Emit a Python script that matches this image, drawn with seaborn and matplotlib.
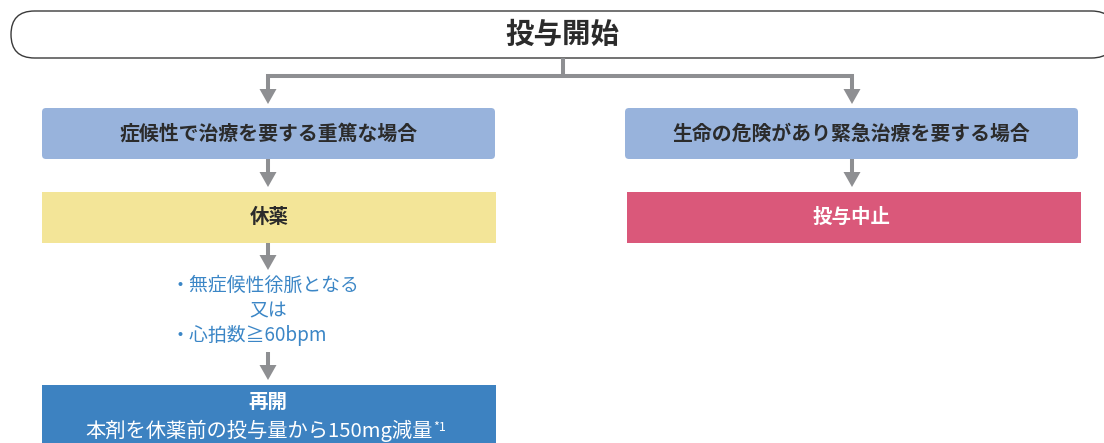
import matplotlib
matplotlib.use("Agg")
import matplotlib.pyplot as plt
from matplotlib.patches import FancyBboxPatch, Rectangle, Polygon
import seaborn as sns

# ---- content ----
start_label = "投与開始"
branch_labels = ["症候性で治療を要する重篤な場合", "生命の危険があり緊急治療を要する場合"]
action_labels = ["休薬", "投与中止"]
condition_lines = ["・無症候性徐脈となる", "又は", "・心拍数≧60bpm"]
resume_title = "再開"
resume_text = "本剤を休薬前の投与量から150mg減量"
resume_note = "*1"

sns.set_theme(style="white")
plt.rcParams['font.family'] = ['Noto Sans CJK JP', 'DejaVu Sans']

GRAY = "#8e8f92"
BLUE_BOX = "#98b3dc"
YELLOW = "#f3e598"
PINK = "#da587a"
DARK_BLUE = "#3d82c1"
TXT = "#2b2b2b"
BLUE_TXT = "#3b86c6"

W, H = 1104, 443
fig = plt.figure(figsize=(W / 100, H / 100), dpi=100)
ax = fig.add_axes([0, 0, 1, 1])
ax.set_xlim(0, W)
ax.set_ylim(H, 0)
ax.axis("off")

# top pill
ax.add_patch(FancyBboxPatch((11, 11), 1104, 47, boxstyle="round,pad=0,rounding_size=23.5",
                            facecolor="white", edgecolor="#3a3a3a", lw=1.0))
ax.text(562, 35, start_label, ha="center", va="center", fontsize=20.5, fontweight="bold", color=TXT)

LW = 2.9
HEAD_L, HEAD_W = 15, 17


def head(x, tip):
    ax.add_patch(Polygon([[x - HEAD_W / 2, tip - HEAD_L], [x + HEAD_W / 2, tip - HEAD_L], [x, tip]],
                         closed=True, facecolor=GRAY, edgecolor="none"))


def arrow(x, y0, tip):
    ax.plot([x, x], [y0, tip - HEAD_L + 1], color=GRAY, lw=LW, solid_capstyle="butt")
    head(x, tip)


# connector from start
ax.plot([563, 563], [58, 76], color=GRAY, lw=LW, solid_capstyle="butt")
ax.plot([268, 268, 852, 852], [104 - HEAD_L + 1, 76, 76, 104 - HEAD_L + 1], color=GRAY, lw=LW,
        solid_joinstyle="miter", solid_capstyle="butt")
head(268, 104)
head(852, 104)

# branch boxes
for x0, lab in zip([42, 625], branch_labels):
    ax.add_patch(FancyBboxPatch((x0, 108), 453, 51, boxstyle="round,pad=0,rounding_size=4",
                                facecolor=BLUE_BOX, edgecolor="none"))
    ax.text(x0 + 226.5, 133.5, lab, ha="center", va="center", fontsize=14.3, fontweight="bold", color=TXT)

arrow(268, 159, 187)
arrow(852, 159, 187)

# action boxes
ax.add_patch(Rectangle((42, 192), 454, 51, facecolor=YELLOW, edgecolor="none"))
ax.text(269, 217, action_labels[0], ha="center", va="center", fontsize=14, fontweight="bold", color=TXT)
ax.add_patch(Rectangle((627, 192), 454, 51, facecolor=PINK, edgecolor="none"))
ax.text(852, 217, action_labels[1], ha="center", va="center", fontsize=14, fontweight="bold", color="white")

arrow(268, 243, 270)

# conditions
cond_pos = [(170, 285, "left"), (268, 311, "center"), (170, 336, "left")]
for (x, y, ha), line in zip(cond_pos, condition_lines):
    ax.text(x, y, line, ha=ha, va="center", fontsize=13.6, color=BLUE_TXT)

arrow(268, 352, 380)

# resume box
ax.add_patch(Rectangle((42, 385), 454, 80, facecolor=DARK_BLUE, edgecolor="none"))
ax.text(268, 402, resume_title, ha="center", va="center", fontsize=14, fontweight="bold", color="white")
t = ax.text(85, 431, resume_text, ha="left", va="center", fontsize=14.6, color="white")

fig.canvas.draw()
bb = t.get_window_extent(renderer=fig.canvas.get_renderer())
(x1, ytop) = ax.transData.inverted().transform((bb.x1, bb.y1))
ax.text(x1 + 1, ytop + 1, resume_note, ha="left", va="top", fontsize=9, color="white")

fig.savefig("out.png", dpi=100)
